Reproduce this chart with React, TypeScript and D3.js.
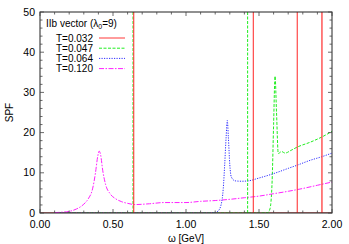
import React from "react";
import * as d3 from "d3";

// T=0.032: only delta peaks (vertical lines)
const redDeltas = [0.642, 1.461, 1.762, 1.931];
// T=0.047: two deltas plus a continuum
const greenDeltas = [0.637, 1.422];
const greenOmega = [0.1, 1.5, 1.56, 1.575, 1.59, 1.6, 1.61, 1.62, 1.632, 1.655, 1.678, 1.72, 1.762, 1.85, 1.93, 2.0];
const greenSpf = [0, 0, 0.1, 1, 8, 22, 34, 25, 14.8, 15.3, 14.9, 15.6, 16.4, 17.6, 18.9, 20.3];
// T=0.064
const blueOmega = [0.1, 1.15, 1.2, 1.22, 1.24, 1.255, 1.265, 1.275, 1.283, 1.29, 1.3, 1.31, 1.336, 1.38, 1.427, 1.5, 1.6, 1.7, 1.762, 1.85, 1.93, 2.0];
const blueSpf = [0, 0, 0.1, 0.5, 2, 6, 12, 19, 23, 19, 12, 9, 8, 7.9, 8, 8.7, 9.8, 11.1, 11.9, 13.1, 14, 14.9];
// T=0.120
const magOmega = [0.1, 0.15, 0.2, 0.25, 0.3, 0.33, 0.36, 0.38, 0.395, 0.405, 0.415, 0.43, 0.45, 0.48, 0.52, 0.56, 0.6, 0.65, 0.75, 0.85, 1.0, 1.1, 1.2, 1.3, 1.4, 1.5, 1.6, 1.7, 1.8, 1.9, 2.0];
const magSpf = [0.1, 0.2, 0.4, 1.0, 2.2, 3.5, 6, 10, 14, 15.4, 14.5, 10.5, 7, 4.8, 3.5, 2.8, 2.4, 2.1, 2.3, 2.6, 2.6, 2.9, 3.1, 3.4, 3.8, 4.2, 4.8, 5.4, 6.1, 6.9, 7.7];

const legendLabels = ["T=0.032", "T=0.047", "T=0.064", "T=0.120"];
const colors = ["#ff3838", "#20ee20", "#3030ff", "#ff20ff"];
const dashes = ["none", "3,1.5", "1.2,1.3", "5,1.5,1.5,1.5"];
const xTicks = [0, 0.5, 1.0, 1.5, 2.0];
const yTicks = [0, 10, 20, 30, 40, 50];

const W = 349;
const H = 244;
const m = { left: 40, right: 17, top: 12, bottom: 31 };
const font = "Liberation Sans, Arial, sans-serif";

export default function App() {
  const x = d3.scaleLinear().domain([0, 2]).range([m.left, W - m.right]);
  const y = d3.scaleLinear().domain([0, 50]).range([H - m.bottom, m.top]);

  const line = d3
    .line<[number, number]>()
    .x((d) => x(d[0]))
    .y((d) => y(Math.min(d[1], 50)))
    .curve(d3.curveMonotoneX);

  const series = [
    { om: greenOmega, v: greenSpf, c: 1 },
    { om: blueOmega, v: blueSpf, c: 2 },
    { om: magOmega, v: magSpf, c: 3 },
  ];

  const minorX = d3.range(0, 2.0001, 0.1);
  const minorY = d3.range(0, 50.0001, 2);
  const [x0, x1] = x.range();
  const [y0, y1] = y.range();

  return (
    <svg width={W} height={H} style={{ position: "absolute", left: 0, top: 0, background: "#fff" }}>
      <defs>
        <clipPath id="plot">
          <rect x={x0} y={y1} width={x1 - x0} height={y0 - y1} />
        </clipPath>
      </defs>
      <g clipPath="url(#plot)">
        {/* red baseline: T=0.032 is zero away from deltas */}
        <line x1={x0} x2={x1} y1={y(0)} y2={y(0)} stroke="#a00000" strokeWidth={1.2} />
        {series.map((s) => (
          <path
            key={s.c}
            d={line(s.om.map((o, i) => [o, s.v[i]] as [number, number])) || ""}
            fill="none"
            stroke={colors[s.c]}
            strokeWidth={1}
            strokeDasharray={dashes[s.c]}
          />
        ))}
        {greenDeltas.map((o) => (
          <line key={"g" + o} x1={x(o)} x2={x(o)} y1={y(0)} y2={y(50)} stroke={colors[1]} strokeWidth={1} strokeDasharray={dashes[1]} />
        ))}
        {redDeltas.map((o, i) => (
          <line key={"r" + o} x1={x(o)} x2={x(o)} y1={y(0)} y2={y(50)} stroke={colors[0]} strokeWidth={i === 3 ? 1.8 : 1.1} opacity={i === 3 ? 0.7 : 1} />
        ))}
      </g>

      {/* frame and ticks */}
      <rect x={x0} y={y1} width={x1 - x0} height={y0 - y1} fill="none" stroke="#222" strokeWidth={1} />
      {minorX.map((t) => {
        const major = Math.abs(t * 2 - Math.round(t * 2)) < 1e-6;
        const len = major ? 4 : 2.5;
        return (
          <g key={"tx" + t} stroke="#444" strokeWidth={0.8}>
            <line x1={x(t)} x2={x(t)} y1={y0} y2={y0 - len} />
            <line x1={x(t)} x2={x(t)} y1={y1} y2={y1 + len} />
          </g>
        );
      })}
      {minorY.map((t) => {
        const len = t % 10 === 0 ? 4 : 2.5;
        return (
          <g key={"ty" + t} stroke="#444" strokeWidth={0.8}>
            <line x1={x0} x2={x0 + len} y1={y(t)} y2={y(t)} />
            <line x1={x1} x2={x1 - len} y1={y(t)} y2={y(t)} />
          </g>
        );
      })}
      {xTicks.map((t) => (
        <text key={"lx" + t} x={x(t)} y={y0 + 15} textAnchor="middle" fontFamily={font} fontSize={10.5} fill="#000">
          {t.toFixed(2)}
        </text>
      ))}
      {yTicks.map((t) => (
        <text key={"ly" + t} x={x0 - 5} y={y(t) + 3.5} textAnchor="end" fontFamily={font} fontSize={10.5} fill="#000">
          {t}
        </text>
      ))}
      <text x={(x0 + x1) / 2} y={H - 2} textAnchor="middle" fontFamily={font} fontSize={10} fill="#000">
        ω [GeV]
      </text>
      <text transform={`translate(13,${(y0 + y1) / 2}) rotate(-90)`} textAnchor="middle" fontFamily={font} fontSize={10} fill="#000">
        SPF
      </text>

      {/* legend */}
      <text x={46} y={27} fontFamily={font} fontSize={10} fill="#000">
        IIb vector (λ
        <tspan fontSize={7} dy={2}>0</tspan>
        <tspan dy={-2}>=9)</tspan>
      </text>
      {legendLabels.map((l, i) => (
        <g key={l}>
          <text x={93} y={41.5 + i * 10.2} textAnchor="end" fontFamily={font} fontSize={10} fill="#000">
            {l}
          </text>
          <line x1={99} x2={125} y1={38 + i * 10.2} y2={38 + i * 10.2} stroke={colors[i]} strokeWidth={1} strokeDasharray={dashes[i]} />
        </g>
      ))}
    </svg>
  );
}
